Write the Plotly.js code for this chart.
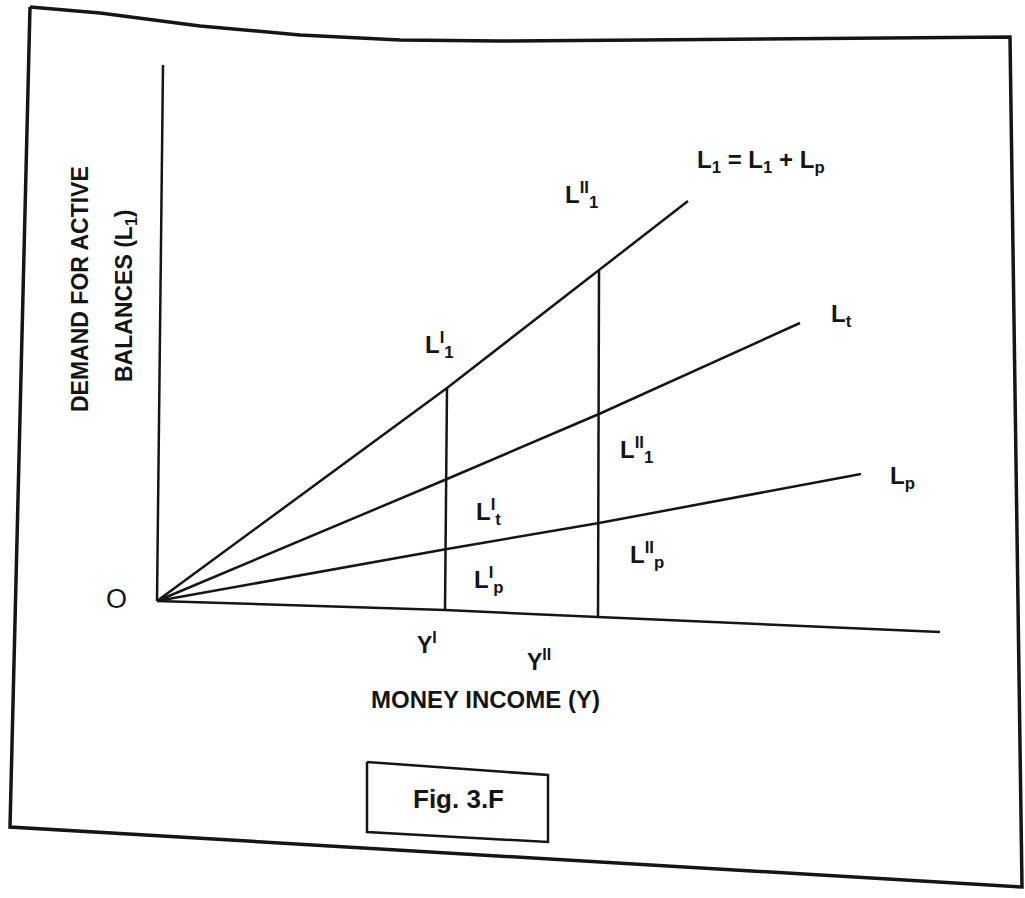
<!DOCTYPE html>
<html>
<head>
<meta charset="utf-8">
<script src="https://cdn.plot.ly/plotly-3.0.1.min.js"></script>
<style>
  html, body { margin: 0; padding: 0; background: #ffffff; }
  #chart { width: 1025px; height: 898px; }
</style>
</head>
<body>
<div id="chart"></div>
<script>
// ---- Values (page coordinates, y grows downward) ----
// Outer page frame
const frameX = [30, 100, 200, 300, 400, 500, 643, 1010, 1022, 10, 30];
const frameY = [7, 13, 26, 35, 40, 41, 40, 37, 887, 827, 7];

// Axes (vertical = demand for active balances, horizontal = money income)
const yAxisX = [163, 157];
const yAxisY = [65, 601];
const xAxisX = [157, 445, 598, 940];
const xAxisY = [601, 610, 617, 632];

// Demand curves, all starting at the origin O
const l1X = [157, 447, 688];
const l1Y = [601, 388, 201];
const ltX = [157, 447, 599, 800];
const ltY = [601, 479, 414, 323];
const lpX = [157, 447, 599, 861];
const lpY = [601, 549, 523, 474];

// Vertical drop lines at income levels Y' and Y''
const yOneX = [447, 445];
const yOneY = [388, 610];
const yTwoX = [599, 598];
const yTwoY = [271, 617];

// Caption box
const figBoxX = [367, 548, 548, 367, 367];
const figBoxY = [762, 775, 842, 832, 762];

// Text labels
const labelText = [
  "L<sub>1</sub> = L<sub>1</sub> + L<sub>p</sub>",
  "L<sup>II</sup><sub>1</sub>",
  "L<sup>I</sup><sub>1</sub>",
  "L<sub>t</sub>",
  "L<sub>p</sub>",
  "L<sup>II</sup><sub>1</sub>",
  "L<sup>I</sup><sub>t</sub>",
  "L<sup>II</sup><sub>p</sub>",
  "L<sup>I</sup><sub>p</sub>",
  "Y<sup>I</sup>",
  "Y<sup>II</sup>",
  "MONEY INCOME (Y)",
  "Fig. 3.F"
];
const labelX = [761, 581, 439, 841, 902, 636, 488, 647, 489, 427, 539, 485, 458];
const labelY = [161, 195, 345, 315, 477, 450, 512, 555, 580, 643, 660, 699, 799];
const labelSize = [24, 24, 24, 24, 24, 24, 24, 24, 24, 23, 23, 24, 26];

const axisTitleLines = ["DEMAND FOR ACTIVE", "BALANCES (L<sub>1</sub>)"];
const axisTitleX = [80, 125];
const axisTitleY = [289, 296];

const originLabel = "O";
const originX = [116];
const originY = [599];

// ---- Build traces ----
const ink = "#151515";
function seg(x, y, w) {
  return { x: x, y: y, type: "scatter", mode: "lines",
           line: { color: ink, width: w, shape: "linear" }, hoverinfo: "skip", showlegend: false };
}
const traces = [
  seg(frameX, frameY, 3.5),
  seg(yAxisX, yAxisY, 2.5),
  seg(xAxisX, xAxisY, 2.5),
  seg(l1X, l1Y, 2.5),
  seg(ltX, ltY, 2.5),
  seg(lpX, lpY, 2.5),
  seg(yOneX, yOneY, 2.5),
  seg(yTwoX, yTwoY, 2.5),
  seg(figBoxX, figBoxY, 2.5)
];

const bold = "Liberation Sans, Arial, sans-serif";
const annotations = [];
labelText.forEach(function (t, i) {
  annotations.push({
    x: labelX[i], y: labelY[i], xref: "x", yref: "y", text: "<b>" + t + "</b>",
    showarrow: false, xanchor: "center", yanchor: "middle",
    font: { family: bold, size: labelSize[i], color: ink }
  });
});
axisTitleLines.forEach(function (t, i) {
  annotations.push({
    x: axisTitleX[i], y: axisTitleY[i], xref: "x", yref: "y", text: "<b>" + t + "</b>",
    showarrow: false, textangle: -90, xanchor: "center", yanchor: "middle",
    font: { family: bold, size: 23, color: ink }
  });
});
annotations.push({
  x: originX[0], y: originY[0], xref: "x", yref: "y", text: originLabel,
  showarrow: false, xanchor: "center", yanchor: "middle",
  font: { family: bold, size: 27, color: ink }
});

const layout = {
  width: 1025, height: 898,
  margin: { l: 0, r: 0, t: 0, b: 0, pad: 0 },
  paper_bgcolor: "#ffffff", plot_bgcolor: "#ffffff",
  xaxis: { range: [0, 1025], visible: false, fixedrange: true },
  yaxis: { range: [898, 0], visible: false, fixedrange: true },
  showlegend: false,
  annotations: annotations
};

Plotly.newPlot("chart", traces, layout, { displayModeBar: false, staticPlot: true });
</script>
</body>
</html>
